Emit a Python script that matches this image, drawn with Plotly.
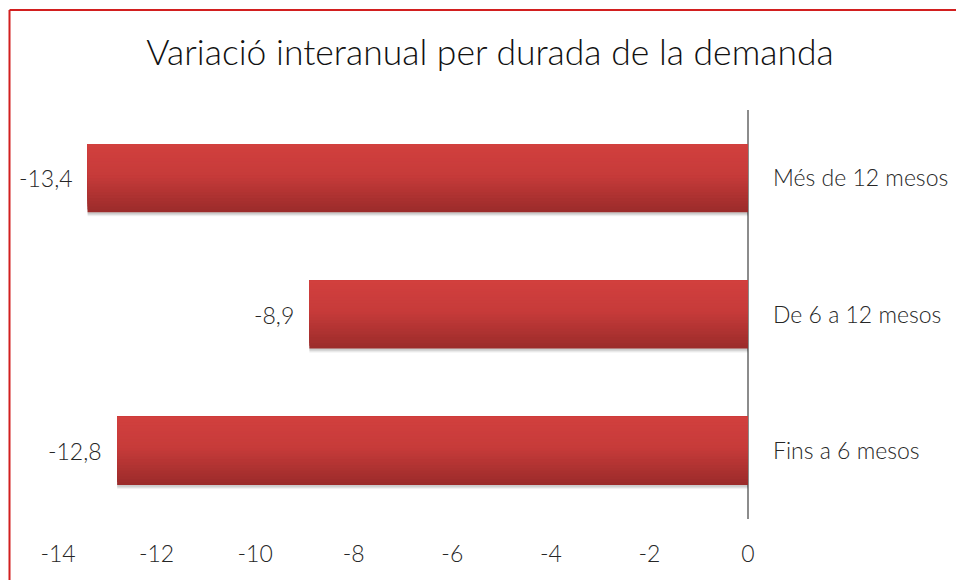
import plotly.graph_objects as go

# Dades
categories = ["Fins a 6 mesos", "De 6 a 12 mesos", "Més de 12 mesos"]
values = [-12.8, -8.9, -13.4]
value_labels = ["-12,8", "-8,9", "-13,4"]
x_ticks = [-14, -12, -10, -8, -6, -4, -2, 0]
x_tick_text = ["-14", "-12", "-10", "-8", "-6", "-4", "-2", "0"]

FONT = "Lato"
TEXT_COLOR = "#262626"
BAR_W = 0.5
N_SLICES = 24

# àrea del gràfic en píxels
L, R, T, B = 58, 208, 110, 61
PW, PH = 956 - L - R, 580 - T - B


def mix(c1, c2, t):
    a = [int(c1[i:i + 2], 16) for i in (1, 3, 5)]
    b = [int(c2[i:i + 2], 16) for i in (1, 3, 5)]
    return "rgb({},{},{})".format(*[round(a[k] + (b[k] - a[k]) * t) for k in range(3)])


def grad(t):
    # t=0 dalt, t=1 baix
    if t < 0.45:
        return mix("#d2403e", "#c73b3a", t / 0.45)
    return mix("#c73b3a", "#9a2b2a", (t - 0.45) / 0.55)


fig = go.Figure()

# ombra
for k, a in enumerate([0.05, 0.07, 0.09]):
    fig.add_trace(go.Bar(
        x=values, y=categories, orientation="h",
        width=BAR_W, offset=-BAR_W / 2 - 0.03 + k * 0.008,
        marker=dict(color="rgba(0,0,0,%s)" % a, line=dict(width=0)),
        hoverinfo="skip", showlegend=False,
    ))

# degradat: cada franja va de la seva base fins a dalt, de baix a dalt
sw = BAR_W / N_SLICES
for i in reversed(range(N_SLICES)):
    t = (i + 0.5) / N_SLICES
    h = (i + 1) * sw
    fig.add_trace(go.Bar(
        x=values, y=categories, orientation="h",
        width=h, offset=BAR_W / 2 - h,
        marker=dict(color=grad(t), line=dict(width=0)),
        showlegend=False,
    ))

# etiquetes de valor
for v, c, lab in zip(values, categories, value_labels):
    fig.add_annotation(
        x=v, y=c, text=lab, showarrow=False,
        xanchor="right", xshift=-13,
        font=dict(family=FONT, size=23, color=TEXT_COLOR, weight=300),
    )

bx = (9.5 - L) / PW
by = (580 - B - 10) / PH

fig.update_layout(
    width=956, height=580,
    barmode="overlay",
    separators=", ",
    paper_bgcolor="white", plot_bgcolor="white",
    margin=dict(l=L, r=R, t=T, b=B, autoexpand=False),
    title=dict(
        text="Variació interanual per durada de la demanda",
        x=490 / 956, xanchor="center",
        y=1 - 53 / 580, yanchor="middle",
        font=dict(family=FONT, size=35.5, color="#111111", weight=300),
    ),
    font=dict(family=FONT, color=TEXT_COLOR),
    shapes=[
        dict(type="line", xref="paper", yref="paper",
             x0=bx, x1=bx, y0=-1, y1=by,
             line=dict(color="#d21f1f", width=2)),
        dict(type="line", xref="paper", yref="paper",
             x0=bx, x1=2, y0=by, y1=by,
             line=dict(color="#d21f1f", width=2)),
    ],
)

fig.update_xaxes(
    range=[-14, 0], tickvals=x_ticks, ticktext=x_tick_text,
    showgrid=False, showline=False, automargin=False,
    zeroline=True, zerolinecolor="#8c8c8c", zerolinewidth=2,
    ticks="", ticklabelstandoff=19,
    tickfont=dict(family=FONT, size=23, color=TEXT_COLOR, weight=300),
)
fig.update_yaxes(
    side="right", categoryorder="array", categoryarray=categories,
    showgrid=False, showline=False, zeroline=False, automargin=False,
    ticks="", ticklabelstandoff=24,
    tickfont=dict(family=FONT, size=23, color=TEXT_COLOR, weight=300),
)

# sense el marge per defecte del body
fig.write_html("out.html", config={"displayModeBar": False},
               post_script="document.body.style.margin='0';")
